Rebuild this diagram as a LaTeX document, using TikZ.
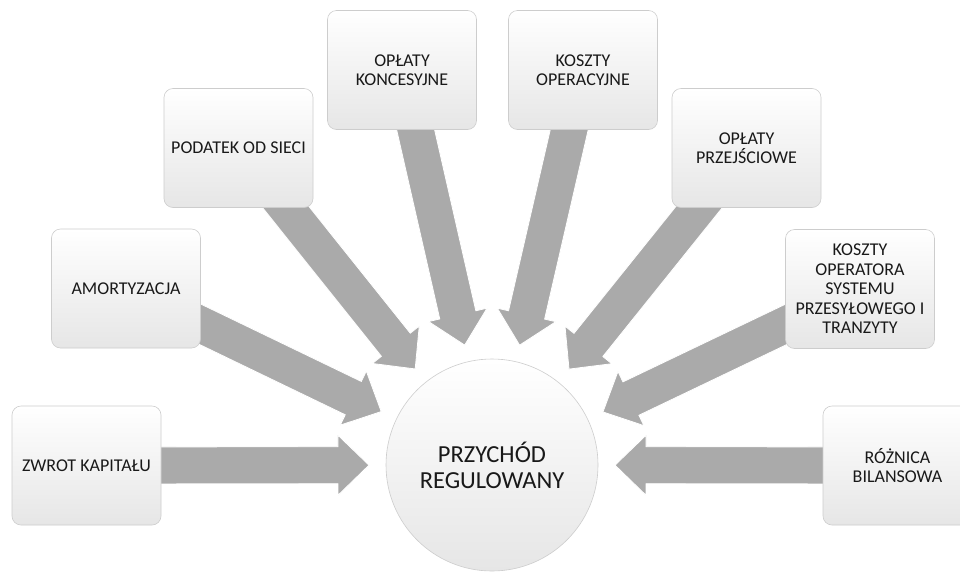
\documentclass[tikz,border=0pt]{standalone}
\usepackage{fontspec}
\setmainfont{Carlito}
\usetikzlibrary{calc,shadows}
\definecolor{arrowgray}{RGB}{170,170,170}
\definecolor{boxedge}{RGB}{205,205,205}
\definecolor{boxbottom}{RGB}{230,230,230}
\definecolor{txt}{RGB}{25,25,25}
\tikzset{
  srcbox/.style={draw=boxedge, line width=0.6pt, rounded corners=9pt,
    minimum width=149pt, minimum height=119pt, align=center,
    top color=white, middle color=white, bottom color=boxbottom,
    text=txt, font=\fontsize{18}{19.5}\selectfont, inner sep=2pt},
  hub/.style={circle, draw=boxedge, line width=0.6pt, minimum size=212pt,
    top color=white, middle color=white, bottom color=boxbottom,
    text=txt, align=center, font=\fontsize{24.5}{26}\selectfont},
  arrowfill/.style={fill=arrowgray, draw=white, line width=0.8pt}
}
\newcommand\blockarr[2]{%
  \coordinate (t) at ($(#2.center)!123pt!(#1.center)$);
  \coordinate (h) at ($(t)!31pt!(#1.center)$);
  \path[arrowfill] ($(#1.center)!18.5pt!90:(t)$) -- ($(h)!18.5pt!90:(t)$)
    -- ($(h)!30pt!90:(t)$) -- (t) -- ($(h)!30pt!-90:(t)$)
    -- ($(h)!18.5pt!-90:(t)$) -- ($(#1.center)!18.5pt!-90:(t)$) -- cycle;
}
\begin{document}
\begin{tikzpicture}[x=1pt,y=-1pt]
\useasboundingbox (0,0) rectangle (960,571);
\clip (0,0) rectangle (960,571);
\fill[white] (0,0) rectangle (960,571);
% anchor coordinates
\coordinate (pz) at (86.5,465.5);
\coordinate (pa) at (126,288.5);
\coordinate (pp) at (238.5,148);
\coordinate (pk) at (402,70);
\coordinate (po) at (583,70);
\coordinate (pr) at (746.5,148);
\coordinate (pt) at (860,289);
\coordinate (pb) at (897.5,465.5);
\coordinate (pc) at (492,465);
% arrows (behind)
\foreach \s in {pz,pa,pp,pk,po,pr,pt,pb}{\blockarr{\s}{pc}}
% hub
\node[hub] (hub) at (pc) {PRZYCHÓD\\REGULOWANY};
% source boxes
\node[srcbox] (zwrot) at (pz) {ZWROT KAPITAŁU};
\node[srcbox] (amort) at (pa) {AMORTYZACJA};
\node[srcbox] (podatek) at (pp) {PODATEK OD SIECI};
\node[srcbox] (konc) at (pk) {OPŁATY\\KONCESYJNE};
\node[srcbox] (oper) at (po) {KOSZTY\\OPERACYJNE};
\node[srcbox] (przej) at (pr) {OPŁATY\\PRZEJŚCIOWE};
\node[srcbox] (tso) at (pt) {KOSZTY\\OPERATORA\\SYSTEMU\\PRZESYŁOWEGO I\\TRANZYTY};
\node[srcbox] (roz) at (pb) {RÓŻNICA\\BILANSOWA};
\end{tikzpicture}
\end{document}
